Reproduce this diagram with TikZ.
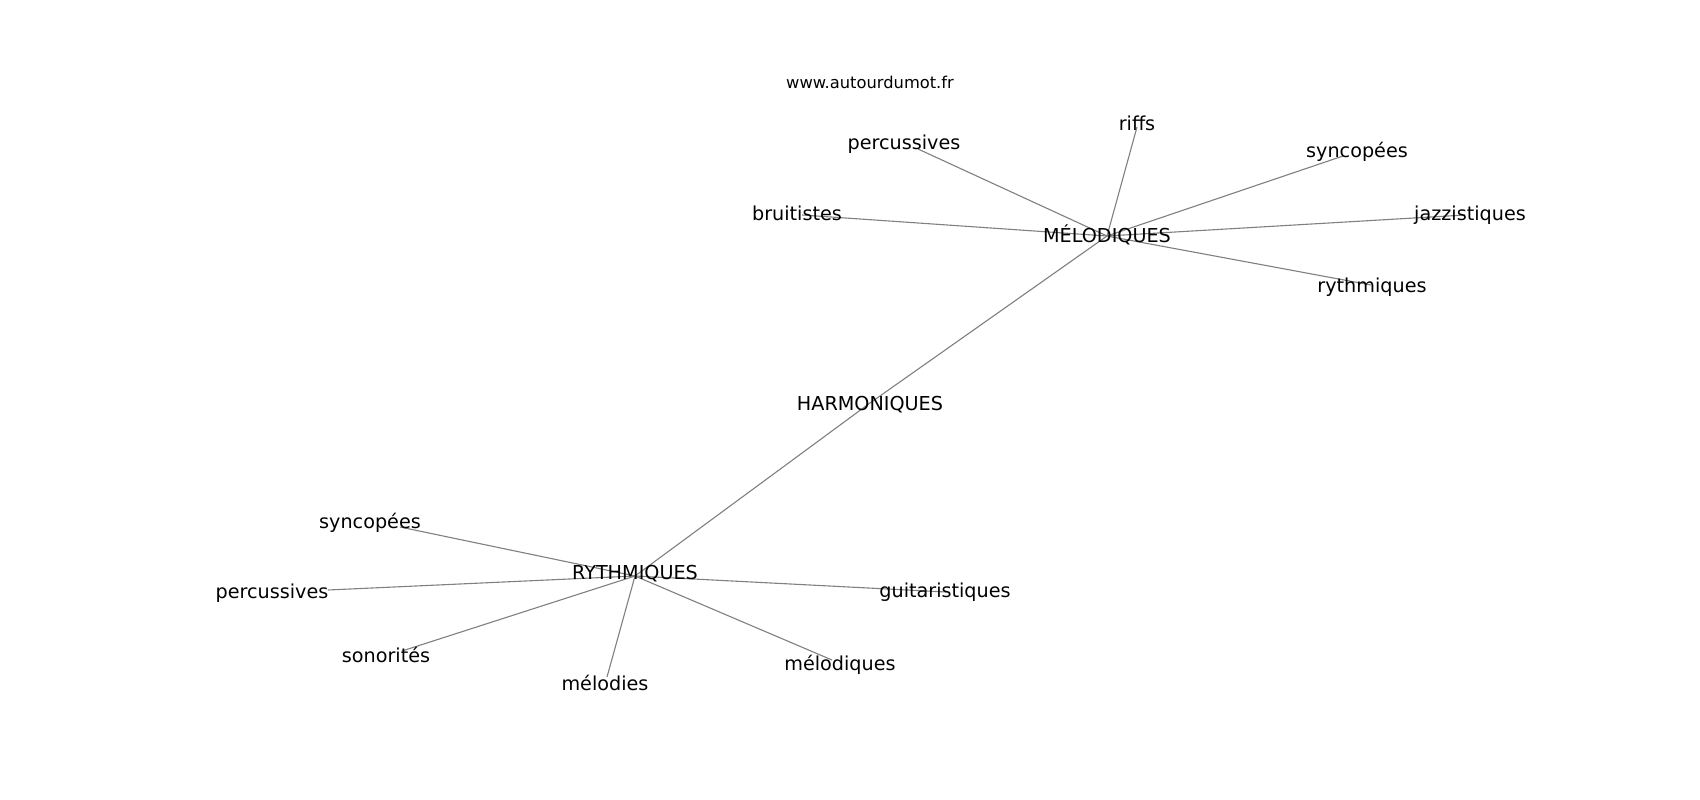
\documentclass[tikz,border=0pt]{standalone}
\usepackage{fontspec}
\setmainfont{DejaVu Sans}
\definecolor{edgegray}{RGB}{128,128,128}
\begin{document}
\begin{tikzpicture}[x=1pt,y=-1pt,
  lbl/.style={font=\fontsize{19.2}{23}\selectfont, inner sep=0pt, anchor=center, yshift=-2pt},
  ttl/.style={font=\fontsize{16.3}{20}\selectfont, inner sep=0pt, anchor=center},
  link/.style={draw=edgegray, line width=1.1pt}]
\useasboundingbox[fill=white] (0,0) rectangle (1700,800);
% graph node positions
\coordinate (cMEL) at (1107,236);
\coordinate (cRIF) at (1137,127);
\coordinate (cPER1) at (918,149);
\coordinate (cSYN1) at (1343,156);
\coordinate (cBRU) at (802,215);
\coordinate (cJAZ) at (1465,215);
\coordinate (cRYT1) at (1371,285);
\coordinate (cHAR) at (870,403);
\coordinate (cRYT) at (635,576);
\coordinate (cSYN2) at (400,527);
\coordinate (cPER2) at (328,590);
\coordinate (cSON) at (402,651);
\coordinate (cMELO) at (607,677);
\coordinate (cMEQ) at (832,660);
\coordinate (cGUI) at (946,592);
% connectors
\draw[link] (cMEL) -- (cRIF);
\draw[link] (cMEL) -- (cPER1);
\draw[link] (cMEL) -- (cSYN1);
\draw[link] (cMEL) -- (cBRU);
\draw[link] (cMEL) -- (cJAZ);
\draw[link] (cMEL) -- (cRYT1);
\draw[link] (cMEL) -- (cHAR);
\draw[link] (cHAR) -- (cRYT);
\draw[link] (cRYT) -- (cSYN2);
\draw[link] (cRYT) -- (cPER2);
\draw[link] (cRYT) -- (cSON);
\draw[link] (cRYT) -- (cMELO);
\draw[link] (cRYT) -- (cMEQ);
\draw[link] (cRYT) -- (cGUI);
% labels
\node[ttl] (title) at (870,82) {www.autourdumot.fr};
\node[lbl] (nMEL) at (1107,233) {MÉLODIQUES};
\node[lbl] (nRIF) at (1137,121) {riffs};
\node[lbl] (nPER1) at (904,142) {percussives};
\node[lbl] (nSYN1) at (1357,150) {syncopées};
\node[lbl] (nBRU) at (797,211) {bruitistes};
\node[lbl] (nJAZ) at (1470,213) {jazzistiques};
\node[lbl] (nRYT1) at (1372,285) {rythmiques};
\node[lbl] (nHAR) at (870,403) {HARMONIQUES};
\node[lbl] (nRYT) at (635,572) {RYTHMIQUES};
\node[lbl] (nSYN2) at (370,521) {syncopées};
\node[lbl] (nPER2) at (272,591) {percussives};
\node[lbl] (nSON) at (386,653) {sonorités};
\node[lbl] (nMELO) at (605,681) {mélodies};
\node[lbl] (nMEQ) at (840,663) {mélodiques};
\node[lbl] (nGUI) at (945,590) {guitaristiques};
\end{tikzpicture}
\end{document}
